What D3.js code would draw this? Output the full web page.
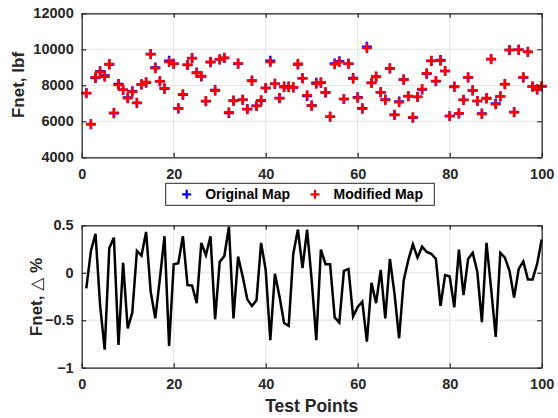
<!DOCTYPE html>
<html>
<head>
<meta charset="utf-8">
<script src="https://cdn.jsdelivr.net/npm/d3@7"></script>
<style>
  body { margin: 0; background: #fff; }
  svg { display: block; font-family: "Liberation Sans", Arial, Helvetica, sans-serif; font-weight: bold; }
</style>
</head>
<body>
<div id="container"></div>
<script>
/* DATA */
const testPoints = d3.range(1, 101);

const originalMap = [
  7568, 5837, 8409, 8786, 8547, 9159, 6454, 8078, 7748, 7321,
  7676, 7017, 8041, 8148, 9741, 8987, 8227, 7803, 9366, 9192,
  6715, 7471, 9140, 9513, 8711, 8490, 7115, 9275, 7738, 9433,
  9516, 6468, 7162, 9195, 7203, 6686, 8268, 6870, 7144, 7848,
  9360, 8090, 7296, 7931, 7933, 7873, 9158, 8385, 7410, 6872,
  8146, 8147, 7604, 6250, 9210, 9343, 7238, 9196, 8405, 7337,
  6720, 10145, 8137, 8488, 7609, 7217, 8931, 6364, 7105, 8318,
  7396, 6203, 7355, 7773, 8648, 9348, 8227, 9400, 8796, 6297,
  7935, 6428, 7200, 8432, 7706, 7127, 6439, 7271, 9460, 6991,
  7373, 8059, 9959, 6517, 9974, 8434, 9857, 7928, 7771, 7933
];

const modifiedMap = [
  7556, 5850, 8444, 8756, 8478, 9183, 6478, 8017, 7756, 7278,
  7644, 7033, 8056, 8183, 9722, 8944, 8222, 7833, 9294, 9200,
  6722, 7500, 9128, 9500, 8683, 8517, 7128, 9311, 7700, 9444,
  9533, 6500, 7128, 9211, 7200, 6667, 8239, 6850, 7167, 7850,
  9294, 8089, 7278, 7889, 7889, 7889, 9200, 8389, 7444, 6867,
  8089, 8167, 7611, 6256, 9167, 9294, 7239, 9200, 8367, 7311,
  6700, 10072, 8128, 8461, 7611, 7183, 8944, 6350, 7056, 8311,
  7406, 6222, 7367, 7794, 8667, 9367, 8239, 9367, 8794, 6294,
  7906, 6444, 7183, 8444, 7722, 7128, 6406, 7294, 9444, 6944,
  7389, 8072, 9961, 6500, 9978, 8444, 9850, 7922, 7778, 7961
];

const deltaPct = [
  -0.165, 0.23, 0.41, -0.34, -0.81, 0.26, 0.37, -0.76, 0.105, -0.585,
  -0.42, 0.23, 0.18, 0.43, -0.2, -0.48, -0.06, 0.385, -0.77, 0.09,
  0.1, 0.385, -0.13, -0.135, -0.32, 0.315, 0.185, 0.385, -0.49, 0.115,
  0.175, 0.485, -0.48, 0.17, -0.04, -0.28, -0.35, -0.29, 0.315, 0.03,
  -0.71, -0.01, -0.25, -0.53, -0.56, 0.2, 0.455, 0.05, 0.455, -0.08,
  -0.71, 0.245, 0.09, 0.09, -0.47, -0.525, 0.02, 0.04, -0.46, -0.36,
  -0.305, -0.725, -0.105, -0.32, 0.03, -0.48, 0.145, -0.22, -0.69, -0.08,
  0.135, 0.3, 0.16, 0.275, 0.22, 0.2, 0.145, -0.35, -0.025, -0.04,
  -0.365, 0.245, -0.235, 0.145, 0.21, 0.01, -0.52, 0.315, -0.165, -0.675,
  0.21, 0.16, 0.02, -0.26, 0.04, 0.12, -0.07, -0.07, 0.09, 0.35
];

const xTicks = [0, 20, 40, 60, 80, 100];
const yTicksTop = [4000, 6000, 8000, 10000, 12000];
const yTicksBottom = [-1, -0.5, 0, 0.5];
const legendLabels = ["Original Map", "Modified Map"];

/* CONSTANTS */
const width = 558, height = 418;
const left = 81.7, right = 541.7;
const axisColor = "#262626", gridColor = "#e3e3e3";
const markerColors = ["#0000ff", "#ff0000"];

const svg = d3.select("#container").append("svg")
  .attr("width", width).attr("height", height);

const xScale = d3.scaleLinear().domain([0, 100]).range([left, right]);
const yTop = d3.scaleLinear().domain([4000, 12000]).range([157.3, 13.3]);
const yBot = d3.scaleLinear().domain([-1, 0.5]).range([367.7, 225.3]);

function styleAxis(g) {
  g.select(".domain").attr("stroke", axisColor).attr("stroke-width", 1.2);
  g.selectAll(".tick line").attr("stroke", axisColor).attr("stroke-width", 1.2);
  g.selectAll("text").attr("fill", axisColor)
    .style("font-size", "14.5px").style("font-weight", "bold");
}

// light grid behind the marks
function drawGrid(yScale, yTicks) {
  const [y0, y1] = yScale.range();
  svg.append("g").selectAll("line").data(xTicks).join("line")
    .attr("x1", d => xScale(d)).attr("x2", d => xScale(d))
    .attr("y1", y0).attr("y2", y1)
    .attr("stroke", gridColor).attr("stroke-width", 1);
  svg.append("g").selectAll("line").data(yTicks).join("line")
    .attr("x1", left).attr("x2", right)
    .attr("y1", d => yScale(d)).attr("y2", d => yScale(d))
    .attr("stroke", gridColor).attr("stroke-width", 1);
}

// box axes, ticks pointing in (matlab look)
function drawAxes(yScale, yTicks, yFormat) {
  const [y0, y1] = yScale.range();
  svg.append("g").attr("transform", `translate(0,${y0})`)
    .call(d3.axisBottom(xScale).tickValues(xTicks).tickSize(-4.5).tickPadding(11).tickSizeOuter(0))
    .call(styleAxis);
  svg.append("g").attr("transform", `translate(0,${y1})`)
    .call(d3.axisTop(xScale).tickValues(xTicks).tickSize(-4.5).tickFormat("").tickSizeOuter(0))
    .call(styleAxis);
  svg.append("g").attr("transform", `translate(${left},0)`)
    .call(d3.axisLeft(yScale).tickValues(yTicks).tickSize(-4.5).tickPadding(8).tickSizeOuter(0).tickFormat(yFormat))
    .call(styleAxis);
  svg.append("g").attr("transform", `translate(${right},0)`)
    .call(d3.axisRight(yScale).tickValues(yTicks).tickSize(-4.5).tickFormat("").tickSizeOuter(0))
    .call(styleAxis);
}

const plusPath = s => `M${-s},0H${s}M0,${-s}V${s}`;

/* TOP PANEL */
drawGrid(yTop, yTicksTop);

[originalMap, modifiedMap].forEach((series, k) => {
  svg.append("g").selectAll("path")
    .data(series).join("path")
    .attr("transform", (d, i) => `translate(${xScale(testPoints[i])},${yTop(d)})`)
    .attr("d", plusPath(5))
    .attr("stroke", markerColors[k])
    .attr("stroke-width", 2.5)
    .attr("fill", "none");
});

drawAxes(yTop, yTicksTop, d3.format("d"));

svg.append("text")
  .attr("transform", `translate(24,85) rotate(-90)`)
  .attr("text-anchor", "middle")
  .style("font-size", "17px").attr("fill", axisColor)
  .text("Fnet, lbf");

/* LEGEND */
const legend = svg.append("g");
legend.append("rect")
  .attr("x", 165.7).attr("y", 183.3).attr("width", 268.6).attr("height", 22)
  .attr("fill", "#fff").attr("stroke", axisColor).attr("stroke-width", 1);
const legendX = [186.7, 315];
legendLabels.forEach((lab, k) => {
  legend.append("path")
    .attr("transform", `translate(${legendX[k]},194.3)`)
    .attr("d", plusPath(4.5))
    .attr("stroke", markerColors[k]).attr("stroke-width", 2.2);
  legend.append("text")
    .attr("x", legendX[k] + 18.5).attr("y", 194.3).attr("dy", "0.35em")
    .style("font-size", "14px").attr("fill", "#000")
    .text(lab);
});

/* BOTTOM PANEL */
drawGrid(yBot, yTicksBottom);

const line = d3.line()
  .x((d, i) => xScale(testPoints[i]))
  .y(d => yBot(d));

svg.append("path")
  .datum(deltaPct)
  .attr("d", line)
  .attr("fill", "none")
  .attr("stroke", "#000")
  .attr("stroke-width", 2.5);

drawAxes(yBot, yTicksBottom, d => d === 0 ? "0" : d3.format("")(d));

const yl = svg.append("text")
  .attr("transform", `translate(42,297) rotate(-90)`)
  .attr("text-anchor", "middle")
  .style("font-size", "17px").attr("fill", axisColor);
yl.append("tspan").text("Fnet, ");
yl.append("tspan").style("font-weight", "normal").style("font-family", "DejaVu Sans")
  .text("\u25B3");
yl.append("tspan").text(" %");

svg.append("text")
  .attr("x", xScale(50)).attr("y", 411.5)
  .attr("text-anchor", "middle")
  .style("font-size", "17.5px").attr("fill", axisColor)
  .text("Test Points");
</script>
</body>
</html>
